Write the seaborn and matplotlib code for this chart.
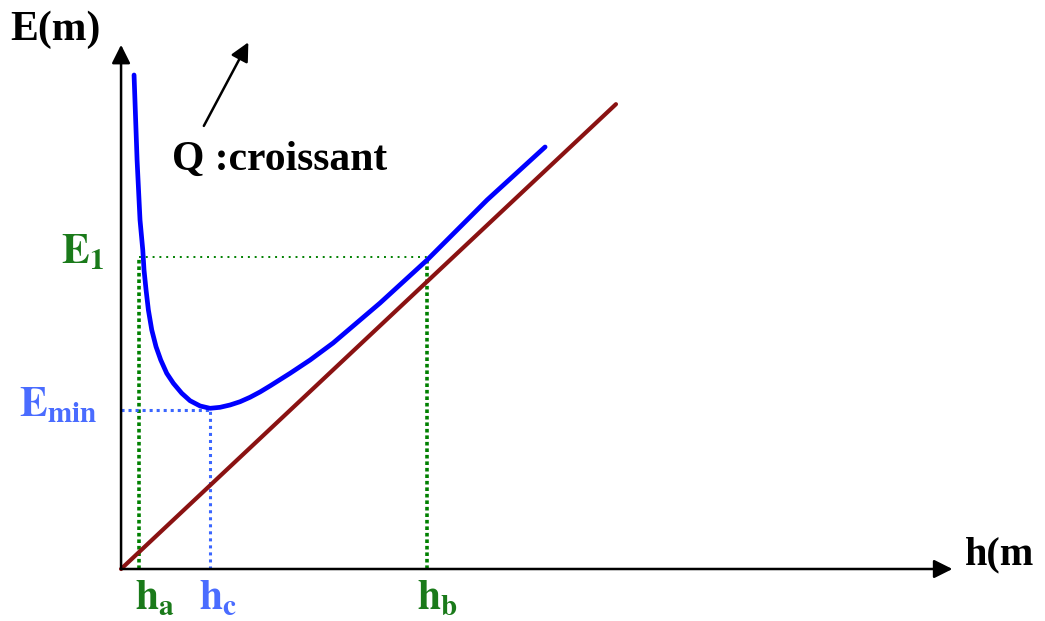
import matplotlib
matplotlib.use("Agg")
import matplotlib.pyplot as plt
import seaborn as sns
import pandas as pd

# Specific energy curve E(h) for a given discharge (hand-drawn shape)
h_curve = [0.146, 0.180, 0.213, 0.244, 0.258, 0.281, 0.307, 0.345, 0.393,
           0.446, 0.513, 0.588, 0.682, 0.775, 0.888, 1.000, 1.112, 1.225,
           1.337, 1.449, 1.562, 1.674, 1.899, 2.124, 2.382, 2.910, 3.438,
           4.112, 4.764]
E_curve = [5.909, 4.892, 4.175, 3.816, 3.577, 3.337, 3.098, 2.859, 2.659,
           2.500, 2.341, 2.221, 2.102, 2.013, 1.950, 1.922, 1.934, 1.962,
           2.001, 2.054, 2.118, 2.190, 2.341, 2.500, 2.703, 3.182, 3.696,
           4.414, 5.048]

# Asymptote E = h
h_line = [0.0, 5.56]
E_line = [0.0, 5.56]

# Characteristic depths and energies
h_a, h_c, h_b = 0.20, 1.00, 3.44
E_1, E_min = 3.73, 1.90

sns.set_style("white")
plt.rcParams["font.family"] = ["Liberation Serif", "DejaVu Serif"]
plt.rcParams["mathtext.fontset"] = "stix"

fig = plt.figure(figsize=(10.45, 6.21), dpi=100)
ax = fig.add_axes([0, 0, 1, 1])
ax.set_xlim(-1.36, 10.38)
ax.set_ylim(-0.622, 6.806)
ax.axis("off")

green = "#008000"
green_txt = "#1a7a1a"
blue_dot = "#3a66ff"
blue_txt = "#4a6cff"

# Guide lines
ax.plot([h_a, h_b], [E_1, E_1], color=green, lw=1.4, ls=(0, (1, 2.5)), zorder=1)
ax.plot([h_a, h_a], [0, E_1], color=green, lw=2.6, ls=(0, (1, 0.8)), zorder=1)
ax.plot([h_b, h_b], [0, E_1 - 0.05], color=green, lw=2.6, ls=(0, (1, 0.8)), zorder=1)
ax.plot([0, h_c], [E_min, E_min], color=blue_dot, lw=2.2, ls=(0, (1, 1.3)), zorder=1)
ax.plot([h_c, h_c], [0, E_min], color=blue_dot, lw=2.2, ls=(0, (1, 1.3)), zorder=1)

# Curves
sns.lineplot(x=h_line, y=E_line, ax=ax, color="#8a1212", lw=3.0, zorder=2)
sns.lineplot(data=pd.DataFrame({"h": h_curve, "E": E_curve}), x="h", y="E",
             ax=ax, sort=False, color="#0000ff", lw=3.4, zorder=3,
             solid_joinstyle="round", solid_capstyle="round")

# Coordinate axes with arrowheads
arrow = dict(arrowstyle="-|>", color="black", lw=1.8, mutation_scale=28,
             shrinkA=0, shrinkB=0)
ax.annotate("", xy=(0, 6.27), xytext=(0, 0), arrowprops=arrow)
ax.annotate("", xy=(9.34, 0), xytext=(0, 0), arrowprops=arrow)
ax.annotate("", xy=(1.43, 6.30), xytext=(0.93, 5.30), arrowprops=arrow)

# Labels
ax.text(-0.74, 6.45, "E(m)", ha="center", va="center", color="black",
        fontweight="bold", fontsize=30)
ax.text(9.48, 0.17, "h(m", ha="left", va="center", color="black",
        fontweight="bold", fontsize=29)
ax.text(0.57, 4.89, "Q :croissant", ha="left", va="center", color="black",
        fontweight="bold", fontsize=30)

ax.text(-0.19, 3.79, r"$\mathbf{E_1}$", ha="right", va="center",
        color=green_txt, fontsize=30)
ax.text(-0.27, 1.96, r"$\mathbf{E_{min}}$", ha="right", va="center",
        color=blue_txt, fontsize=30)
ax.text(0.38, -0.35, r"$\mathbf{h_a}$", ha="center", va="center",
        color=green_txt, fontsize=30)
ax.text(1.09, -0.35, r"$\mathbf{h_c}$", ha="center", va="center",
        color=blue_txt, fontsize=30)
ax.text(3.55, -0.35, r"$\mathbf{h_b}$", ha="center", va="center",
        color=green_txt, fontsize=30)

fig.savefig("out.png", dpi=100)
